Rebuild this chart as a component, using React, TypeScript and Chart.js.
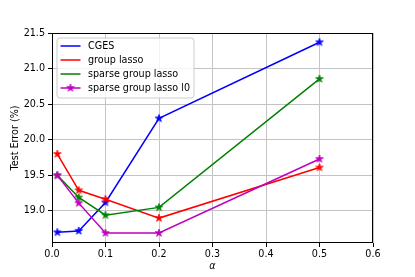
import React, { useEffect, useRef } from "react";
import { Chart, registerables } from "chart.js";

Chart.register(...registerables);

const alphas = [0.01, 0.05, 0.1, 0.2, 0.5];
const cges = [18.7, 18.72, 19.12, 20.3, 21.37];
const groupLasso = [19.8, 19.29, 19.165, 18.9, 19.61];
const sparseGroupLasso = [19.5, 19.19, 18.94, 19.05, 20.855];
const sparseGroupLassoL0 = [19.5, 19.11, 18.69, 18.69, 19.73];
const seriesNames = ["CGES", "group lasso", "sparse group lasso", "sparse group lasso l0"];
const seriesColors = ["#0000ff", "#ff0000", "#008000", "#bf00bf"];
const xTicks = [0.0, 0.1, 0.2, 0.3, 0.4, 0.5, 0.6];
const yTicks = [19.0, 19.5, 20.0, 20.5, 21.0, 21.5];

const FONT = "'DejaVu Sans', sans-serif";

function starCanvas(color: string, r: number) {
  const size = Math.ceil(r * 2 + 2);
  const c = document.createElement("canvas");
  c.width = size;
  c.height = size;
  const ctx = c.getContext("2d")!;
  const cx = size / 2;
  const cy = size / 2;
  const inner = r * 0.381966;
  ctx.beginPath();
  for (let i = 0; i < 10; i++) {
    const rad = i % 2 === 0 ? r : inner;
    const a = -Math.PI / 2 + (i * Math.PI) / 5;
    const px = cx + rad * Math.cos(a);
    const py = cy + rad * Math.sin(a);
    if (i === 0) ctx.moveTo(px, py);
    else ctx.lineTo(px, py);
  }
  ctx.closePath();
  ctx.fillStyle = color;
  ctx.fill();
  ctx.strokeStyle = color;
  ctx.lineWidth = 0.8;
  ctx.stroke();
  return c;
}

export default function App() {
  const ref = useRef<HTMLCanvasElement | null>(null);

  useEffect(() => {
    document.body.style.margin = "0";
    const canvas = ref.current!;
    const series = [cges, groupLasso, sparseGroupLasso, sparseGroupLassoL0];
    const stars = seriesColors.map((c) => starCanvas(c, 4));

    const borderPlugin = {
      id: "frameBorder",
      afterDatasetsDraw(chart: any) {
        const { ctx, chartArea: a } = chart;
        ctx.save();
        ctx.strokeStyle = "#000";
        ctx.lineWidth = 1;
        ctx.strokeRect(Math.round(a.left) + 0.5, Math.round(a.top) + 0.5, Math.round(a.right - a.left) - 1, Math.round(a.bottom - a.top) - 1);
        ctx.restore();
      },
    };

    const legendPlugin = {
      id: "mplLegend",
      afterDraw(chart: any) {
        const { ctx, chartArea: a } = chart;
        const bx = a.left + 5;
        const by = a.top + 5;
        const bw = 137;
        const bh = 60;
        ctx.save();
        ctx.beginPath();
        const r = 3;
        ctx.moveTo(bx + r, by);
        ctx.lineTo(bx + bw - r, by);
        ctx.quadraticCurveTo(bx + bw, by, bx + bw, by + r);
        ctx.lineTo(bx + bw, by + bh - r);
        ctx.quadraticCurveTo(bx + bw, by + bh, bx + bw - r, by + bh);
        ctx.lineTo(bx + r, by + bh);
        ctx.quadraticCurveTo(bx, by + bh, bx, by + bh - r);
        ctx.lineTo(bx, by + r);
        ctx.quadraticCurveTo(bx, by, bx + r, by);
        ctx.closePath();
        ctx.fillStyle = "rgba(255,255,255,0.8)";
        ctx.fill();
        ctx.strokeStyle = "#cccccc";
        ctx.lineWidth = 1;
        ctx.stroke();
        ctx.font = `9.6px ${FONT}`;
        ctx.textBaseline = "middle";
        ctx.textAlign = "left";
        chart.data.datasets.forEach((ds: any, i: number) => {
          const y = by + 8 + i * 14;
          ctx.strokeStyle = ds.borderColor;
          ctx.lineWidth = 1.5;
          ctx.beginPath();
          ctx.moveTo(bx + 3.5, y);
          ctx.lineTo(bx + 23.5, y);
          ctx.stroke();
          if (i === chart.data.datasets.length - 1) {
            const img = stars[i];
            ctx.drawImage(img, bx + 13.5 - img.width / 2, y - img.height / 2);
          }
          ctx.fillStyle = "#000";
          ctx.fillText(ds.label, bx + 31, y + 0.5);
        });
        ctx.restore();
      },
    };

    const chart = new Chart(canvas, {
      type: "line",
      data: {
        datasets: series.map((vals, i) => ({
          label: seriesNames[i],
          data: alphas.map((x, j) => ({ x, y: vals[j] })),
          borderColor: seriesColors[i],
          backgroundColor: seriesColors[i],
          borderWidth: 1.5,
          pointStyle: stars[i] as any,
          pointRadius: 4,
          fill: false,
          tension: 0,
          order: series.length - i,
        })),
      },
      options: {
        animation: false,
        responsive: false,
        devicePixelRatio: 1,
        layout: { padding: { top: 33, right: 42, left: 0, bottom: 0 } },
        plugins: { legend: { display: false }, tooltip: { enabled: false } },
        scales: {
          x: {
            type: "linear",
            min: 0,
            max: 0.6,
            afterBuildTicks: (axis: any) => {
              axis.ticks = xTicks.map((v) => ({ value: v }));
            },
            afterFit: (scale: any) => {
              scale.height = 34;
            },
            ticks: {
              callback: (v: any) => Number(v).toFixed(1),
              color: "#000",
              font: { family: FONT, size: 9.6 },
              padding: 2,
              maxRotation: 0,
            },
            grid: { color: "#c4c4c4", lineWidth: 1, tickColor: "#000", tickLength: 4 },
            border: { display: false },
            title: {
              display: true,
              text: "α",
              color: "#000",
              font: { family: FONT, size: 9.6, style: "italic" },
              padding: { top: 0, bottom: 5 },
            },
          },
          y: {
            type: "linear",
            min: 18.55,
            max: 21.5,
            afterBuildTicks: (axis: any) => {
              axis.ticks = yTicks.map((v) => ({ value: v }));
            },
            afterFit: (scale: any) => {
              scale.width = 52;
            },
            ticks: {
              callback: (v: any) => Number(v).toFixed(1),
              color: "#000",
              font: { family: FONT, size: 9.6 },
              padding: 3,
            },
            grid: { color: "#c4c4c4", lineWidth: 1, tickColor: "#000", tickLength: 4 },
            border: { display: false },
            title: {
              display: true,
              text: "Test Error (%)",
              color: "#000",
              font: { family: FONT, size: 9.6 },
              padding: { top: 10, bottom: 0 },
            },
          },
        },
      },
      plugins: [borderPlugin, legendPlugin],
    });
    return () => chart.destroy();
  }, []);

  return (
    <div style={{ position: "absolute", left: 0, top: 0, width: 415, height: 277 }}>
      <canvas ref={ref} width={415} height={277} style={{ width: 415, height: 277 }} />
    </div>
  );
}
